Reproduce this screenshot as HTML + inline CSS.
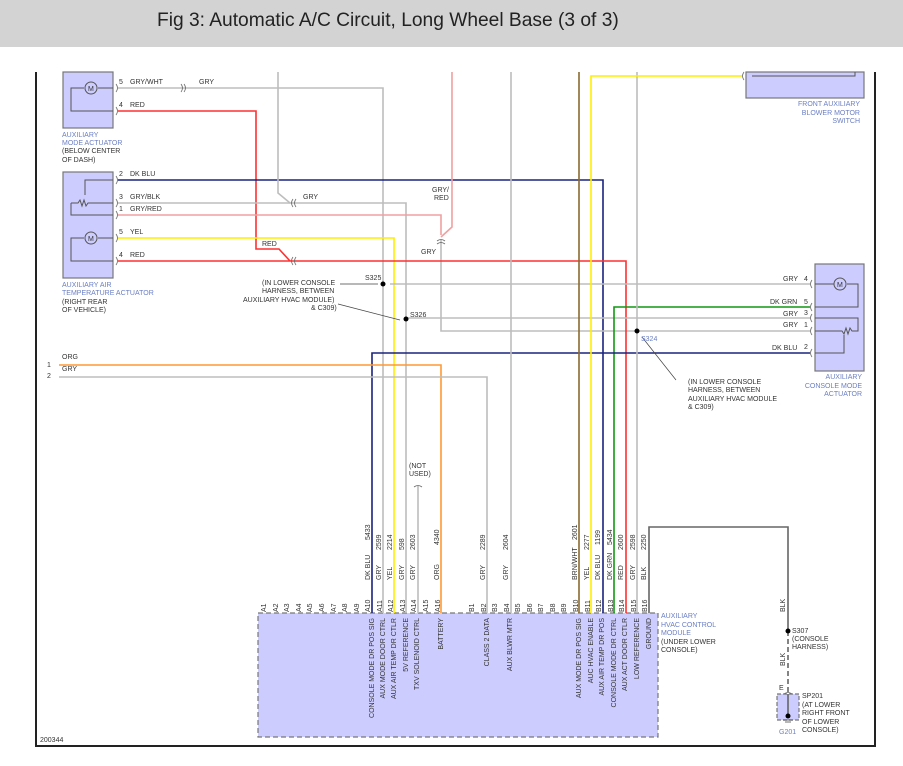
<!DOCTYPE html>
<html><head><meta charset="utf-8"><style>
body{margin:0;background:#fff;width:903px;height:766px;overflow:hidden}
svg{display:block}
text{font-family:"Liberation Sans",sans-serif;font-size:7px;fill:#333}
.b{fill:#6b7fc4}
</style></head><body>
<svg width="903" height="766" viewBox="0 0 903 766">
<rect x="0" y="0" width="903" height="47" fill="#d3d3d3"/>
<text x="157" y="26" style="font-size:19.2px;fill:#222">Fig 3: Automatic A/C Circuit, Long Wheel Base (3 of 3)</text>
<!-- frame -->
<g stroke="#222" stroke-width="2" fill="none">
<path d="M36 72 V746 H875 V72"/>
</g>
<!-- boxes -->
<g fill="#ccccff" stroke="#777" stroke-width="1.2">
<rect x="63" y="72" width="50" height="56"/>
<rect x="63" y="172" width="50" height="106"/>
<rect x="746" y="72" width="118" height="26"/>
<rect x="815" y="264" width="49" height="107"/>
<rect x="258" y="613" width="400" height="124" stroke-dasharray="5,3"/>
<rect x="777" y="694" width="22" height="26" stroke-dasharray="4,2"/>
</g>
<!-- internal actuator drawings -->
<g stroke="#555" fill="none" stroke-width="1">
<path d="M113 88 H98 M84 88 H71 V111 H113"/>
<circle cx="91" cy="88" r="6"/>
<path d="M113 180 H85 V195 M71 203 H78 l2 -3 2 6 2 -6 2 6 2 -3 H113 M71 203 V215 H113"/>
<path d="M113 238 H98 M84 238 H71 V261 H113"/>
<circle cx="91" cy="238" r="6"/>
<path d="M815 284 H834 M847 284 H858 V307 H815 M815 318 H858 V331 H852 l-2 -3 -2 6 -2 -6 -2 6 -2 -3 H815 M844 335 V353 H815"/>
<circle cx="840" cy="284" r="6"/>
<path d="M752 76 H855 V72"/>
</g>
<text x="88" y="91">M</text><text x="88" y="241">M</text><text x="837" y="287">M</text>
<!-- wires -->
<g fill="none" stroke-width="1.6">
<path stroke="#bdbdbd" d="M118 88 H383 V613"/>
<path stroke="#ff3030" d="M118 111 H256 V249 H279 L290 261"/>
<path stroke="#1a237e" d="M118 180 H603 V613"/>
<path stroke="#bdbdbd" d="M278 72 V193 L290 203 H406 V613"/>
<path stroke="#bdbdbd" d="M118 203 H290"/>
<path stroke="#f0a0a0" d="M118 215 H441 V235 M452 72 V227 L441 237"/>
<path stroke="#bdbdbd" d="M441 240 V331 H810"/>
<path stroke="#ffee00" d="M118 238 H394 V613"/>
<path stroke="#ff3030" d="M118 261 H626 V613"/>
<path stroke="#bdbdbd" d="M390 284 H810 M406 318 H810"/>
<path stroke="#119911" d="M810 307 H614 V613"/>
<path stroke="#1a237e" d="M810 353 H372 V613"/>
<path stroke="#ff9933" d="M59 365 H441 V613"/>
<path stroke="#bdbdbd" d="M59 377 H487 V613"/>
<path stroke="#bdbdbd" d="M511 72 V613 M637 72 V613 M418 486 V613"/>
<path stroke="#8b6b2e" d="M579 72 V613"/>
<path stroke="#ffee00" d="M591 613 V76 H742"/>
<path stroke="#666" d="M649 613 V527 H788 V631"/>
<path stroke="#666" stroke-dasharray="5,3" d="M788 631 V694"/>
<path stroke="#666" d="M788 694 V716"/>
</g>
<!-- connectors -->
<g fill="none" stroke="#666" stroke-width="0.8">
<path d="M116 84 q3 4 0 8 M116 107 q3 4 0 8 M116 176 q3 4 0 8 M116 199 q3 4 0 8 M116 211 q3 4 0 8 M116 234 q3 4 0 8 M116 257 q3 4 0 8"/>
<path d="M181 84 q3 4 0 8 M184 84 q3 4 0 8 M293 199 q-3 4 0 8 M296 199 q-3 4 0 8 M293 257 q-3 4 0 8 M296 257 q-3 4 0 8"/>
<path d="M437 241 q4 -3 8 0 M437 244 q4 -3 8 0 M414 487 q4 -3 8 0"/>
<path d="M812 280 q-3 4 0 8 M812 303 q-3 4 0 8 M812 314 q-3 4 0 8 M812 327 q-3 4 0 8 M812 349 q-3 4 0 8 M744 72 q-3 4 0 8"/>
<path d="M784 694 q4 -3 8 0"/>
</g>
<g fill="#000">
<circle cx="383" cy="284" r="2.5"/><circle cx="406" cy="319" r="2.5"/><circle cx="637" cy="331" r="2.5"/><circle cx="788" cy="631" r="2.5"/><circle cx="788" cy="716" r="2.5"/>
</g>
<g stroke="#444" stroke-width="0.7" fill="none">
<path d="M340 284 H378 M338 304 L400 320 M676 380 L642 337 M783 720 H793 M785 722 H791"/>
</g>
<!-- wire labels -->
<text x="119" y="84">5</text><text x="130" y="84">GRY/WHT</text><text x="199" y="84">GRY</text>
<text x="119" y="107">4</text><text x="130" y="107">RED</text>
<text x="119" y="176">2</text><text x="130" y="176">DK BLU</text>
<text x="119" y="199">3</text><text x="130" y="199">GRY/BLK</text><text x="303" y="199">GRY</text>
<text x="119" y="211">1</text><text x="130" y="211">GRY/RED</text>
<text x="119" y="234">5</text><text x="130" y="234">YEL</text>
<text x="119" y="257">4</text><text x="130" y="257">RED</text><text x="262" y="246">RED</text>
<text x="432" y="192">GRY/</text><text x="434" y="200">RED</text><text x="421" y="254">GRY</text>
<text x="365" y="280">S325</text><text x="410" y="317">S326</text><text class="b" x="641" y="341">S324</text>
<text x="262" y="285">(IN LOWER CONSOLE</text><text x="262" y="293">HARNESS, BETWEEN</text><text x="243" y="302">AUXILIARY HVAC MODULE)</text><text x="311" y="310">&amp; C309)</text>
<text x="688" y="384">(IN LOWER CONSOLE</text><text x="688" y="392">HARNESS, BETWEEN</text><text x="688" y="401">AUXILIARY HVAC MODULE</text><text x="688" y="409">&amp; C309)</text>
<text x="783" y="281">GRY</text><text x="804" y="281">4</text>
<text x="770" y="304">DK GRN</text><text x="804" y="304">5</text>
<text x="783" y="316">GRY</text><text x="804" y="315">3</text>
<text x="783" y="327">GRY</text><text x="804" y="327">1</text>
<text x="772" y="350">DK BLU</text><text x="804" y="349">2</text>
<text x="62" y="359">ORG</text><text x="47" y="367">1</text>
<text x="62" y="371">GRY</text><text x="47" y="378">2</text>
<text x="409" y="468">(NOT</text><text x="409" y="476">USED)</text>
<text class="b" x="62" y="137">AUXILIARY</text><text class="b" x="62" y="145">MODE ACTUATOR</text><text x="62" y="153">(BELOW CENTER</text><text x="62" y="162">OF DASH)</text>
<text class="b" x="62" y="287">AUXILIARY AIR</text><text class="b" x="62" y="295">TEMPERATURE ACTUATOR</text><text x="62" y="304">(RIGHT REAR</text><text x="62" y="312">OF VEHICLE)</text>
<g text-anchor="end"><text class="b" x="860" y="106">FRONT AUXILIARY</text><text class="b" x="860" y="115">BLOWER MOTOR</text><text class="b" x="860" y="123">SWITCH</text>
<text class="b" x="862" y="379">AUXILIARY</text><text class="b" x="862" y="388">CONSOLE MODE</text><text class="b" x="862" y="396">ACTUATOR</text></g>
<text class="b" x="661" y="618">AUXILIARY</text><text class="b" x="661" y="627">HVAC CONTROL</text><text class="b" x="661" y="635">MODULE</text><text x="661" y="644">(UNDER LOWER</text><text x="661" y="652">CONSOLE)</text>
<text x="792" y="633">S307</text><text x="792" y="641">(CONSOLE</text><text x="792" y="649">HARNESS)</text>
<text x="802" y="698">SP201</text><text x="802" y="707">(AT LOWER</text><text x="802" y="715">RIGHT FRONT</text><text x="802" y="724">OF LOWER</text><text x="802" y="732">CONSOLE)</text>
<text class="b" x="779" y="734">G201</text><text x="779" y="690">E</text>
<text x="40" y="742">200344</text>
<text transform="translate(785,612) rotate(-90)">BLK</text><text transform="translate(785,666) rotate(-90)">BLK</text>
<!-- rotated pin labels -->
<g id="pins">
<text transform="translate(266,612) rotate(-90)">A1</text><text transform="translate(278,612) rotate(-90)">A2</text><text transform="translate(289,612) rotate(-90)">A3</text><text transform="translate(301,612) rotate(-90)">A4</text><text transform="translate(312,612) rotate(-90)">A5</text><text transform="translate(324,612) rotate(-90)">A6</text><text transform="translate(336,612) rotate(-90)">A7</text><text transform="translate(347,612) rotate(-90)">A8</text><text transform="translate(359,612) rotate(-90)">A9</text><text transform="translate(370,612) rotate(-90)">A10</text><text transform="translate(382,612) rotate(-90)">A11</text><text transform="translate(393,612) rotate(-90)">A12</text><text transform="translate(405,612) rotate(-90)">A13</text><text transform="translate(416,612) rotate(-90)">A14</text><text transform="translate(428,612) rotate(-90)">A15</text><text transform="translate(440,612) rotate(-90)">A16</text>
<text transform="translate(474,612) rotate(-90)">B1</text><text transform="translate(486,612) rotate(-90)">B2</text><text transform="translate(497,612) rotate(-90)">B3</text><text transform="translate(509,612) rotate(-90)">B4</text><text transform="translate(520,612) rotate(-90)">B5</text><text transform="translate(532,612) rotate(-90)">B6</text><text transform="translate(543,612) rotate(-90)">B7</text><text transform="translate(555,612) rotate(-90)">B8</text><text transform="translate(566,612) rotate(-90)">B9</text><text transform="translate(578,612) rotate(-90)">B10</text><text transform="translate(590,612) rotate(-90)">B11</text><text transform="translate(601,612) rotate(-90)">B12</text><text transform="translate(613,612) rotate(-90)">B13</text><text transform="translate(624,612) rotate(-90)">B14</text><text transform="translate(636,612) rotate(-90)">B15</text><text transform="translate(647,612) rotate(-90)">B16</text>
</g>
<g>
<text transform="translate(370,580) rotate(-90)">DK BLU</text><text transform="translate(370,540) rotate(-90)">5433</text>
<text transform="translate(381,580) rotate(-90)">GRY</text><text transform="translate(381,550) rotate(-90)">2599</text>
<text transform="translate(392,580) rotate(-90)">YEL</text><text transform="translate(392,550) rotate(-90)">2214</text>
<text transform="translate(404,580) rotate(-90)">GRY</text><text transform="translate(404,550) rotate(-90)">598</text>
<text transform="translate(415,580) rotate(-90)">GRY</text><text transform="translate(415,550) rotate(-90)">2603</text>
<text transform="translate(439,580) rotate(-90)">ORG</text><text transform="translate(439,545) rotate(-90)">4340</text>
<text transform="translate(485,580) rotate(-90)">GRY</text><text transform="translate(485,550) rotate(-90)">2289</text>
<text transform="translate(508,580) rotate(-90)">GRY</text><text transform="translate(508,550) rotate(-90)">2604</text>
<text transform="translate(577,580) rotate(-90)">BRN/WHT</text><text transform="translate(577,540) rotate(-90)">2601</text>
<text transform="translate(589,580) rotate(-90)">YEL</text><text transform="translate(589,550) rotate(-90)">2277</text>
<text transform="translate(600,580) rotate(-90)">DK BLU</text><text transform="translate(600,545) rotate(-90)">1199</text>
<text transform="translate(612,580) rotate(-90)">DK GRN</text><text transform="translate(612,545) rotate(-90)">5434</text>
<text transform="translate(623,580) rotate(-90)">RED</text><text transform="translate(623,550) rotate(-90)">2600</text>
<text transform="translate(635,580) rotate(-90)">GRY</text><text transform="translate(635,550) rotate(-90)">2598</text>
<text transform="translate(646,580) rotate(-90)">BLK</text><text transform="translate(646,550) rotate(-90)">2250</text>
</g>
<g text-anchor="end">
<text transform="translate(374,618) rotate(-90)">CONSOLE MODE DR POS SIG</text>
<text transform="translate(385,618) rotate(-90)">AUX MODE DOOR CTRL</text>
<text transform="translate(396,618) rotate(-90)">AUX AIR TEMP DR CTLR</text>
<text transform="translate(408,618) rotate(-90)">5V REFERENCE</text>
<text transform="translate(419,618) rotate(-90)">TXV SOLENOID CTRL</text>
<text transform="translate(443,618) rotate(-90)">BATTERY</text>
<text transform="translate(489,618) rotate(-90)">CLASS 2 DATA</text>
<text transform="translate(512,618) rotate(-90)">AUX BLWR MTR</text>
<text transform="translate(581,618) rotate(-90)">AUX MODE DR POS SIG</text>
<text transform="translate(593,618) rotate(-90)">AUC HVAC ENABLE</text>
<text transform="translate(604,618) rotate(-90)">AUX AIR TEMP DR POS</text>
<text transform="translate(616,618) rotate(-90)">CONSOLE MODE DR CTRL</text>
<text transform="translate(627,618) rotate(-90)">AUX ACT DOOR CTLR</text>
<text transform="translate(639,618) rotate(-90)">LOW REFERENCE</text>
<text transform="translate(651,618) rotate(-90)">GROUND</text>
</g>
</svg>
</body></html>
